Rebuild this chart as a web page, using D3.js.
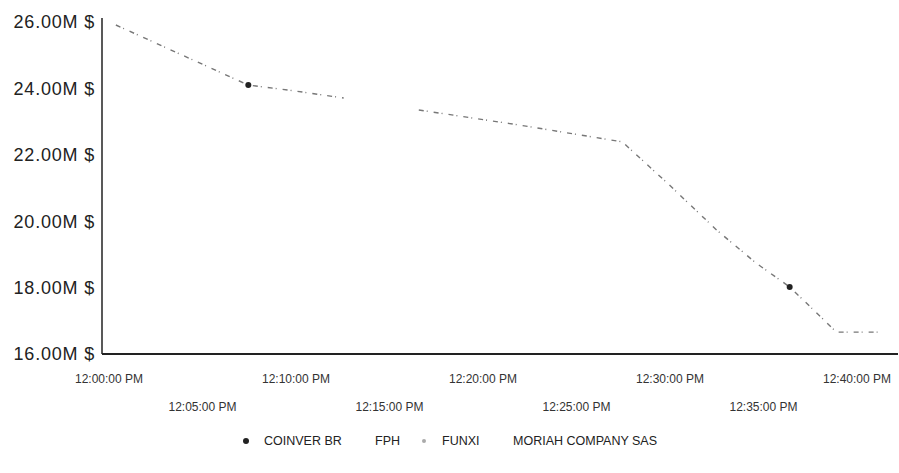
<!DOCTYPE html>
<html>
<head>
<meta charset="utf-8">
<script src="https://cdn.jsdelivr.net/npm/d3@7"></script>
<style>
  body { margin: 0; background: #fff; }
  text { font-family: "Liberation Sans", Arial, sans-serif; fill: #222; }
</style>
</head>
<body>
<svg id="chart"></svg>
<script>
// series shown in the legend
const seriesNames = ["COINVER BR", "FPH", "FUNXI", "MORIAH COMPANY SAS"];

// points of the line (time of day, value in millions $), null = break in the line
const pointTimes = ["12:00:22", "12:07:27", "12:09:36", "12:12:33", "12:14:30", "12:16:34",
                    "12:21:54", "12:27:27", "12:29:58", "12:32:30", "12:34:36", "12:36:24",
                    "12:38:54", "12:41:06"];
const pointValues = [25.91, 24.10, 23.95, 23.71, null, 23.35,
                     22.90, 22.39, 21.09, 19.73, 18.74, 18.02,
                     16.66, 16.66];
// which points carry a marker (series name) – only these are visible in the scan
const pointMarkers = [null, "COINVER BR", null, null, null, null,
                      null, null, null, null, null, "COINVER BR",
                      null, null];

const yTicks = [16, 18, 20, 22, 24, 26];
const xTickTimes = ["12:00:00", "12:05:00", "12:10:00", "12:15:00", "12:20:00",
                    "12:25:00", "12:30:00", "12:35:00", "12:40:00"];

const chartSettings = {
    width: 899,
    height: 473,
    axisLeft: 102,
    axisRight: 898,
    axisTop: 18,
    axisBottom: 354,
};

const parseTime = d3.timeParse("%H:%M:%S");
const formatTime = d3.timeFormat("%I:%M:%S %p");

const svg = d3.select("#chart")
    .attr("width", chartSettings.width)
    .attr("height", chartSettings.height);

const x = d3.scaleTime()
    .domain([parseTime("12:00:00"), parseTime("12:40:00")])
    .range([109, 857]);

const y = d3.scaleLinear()
    .domain([16, 26])
    .range([chartSettings.axisBottom, 22]);

// y labels
svg.append("g")
    .selectAll("text")
    .data(yTicks)
    .join("text")
    .attr("x", 95)
    .attr("y", d => y(d))
    .attr("dy", "0.35em")
    .attr("text-anchor", "end")
    .style("font-size", "18px")
    .style("letter-spacing", "0.8px")
    .text(d => d.toFixed(2) + "M $");

// axis lines
svg.append("line")
    .attr("x1", chartSettings.axisLeft).attr("x2", chartSettings.axisLeft)
    .attr("y1", chartSettings.axisTop).attr("y2", chartSettings.axisBottom)
    .attr("stroke", "#222").attr("stroke-width", 1.5);
svg.append("line")
    .attr("x1", chartSettings.axisLeft).attr("x2", chartSettings.axisRight)
    .attr("y1", chartSettings.axisBottom).attr("y2", chartSettings.axisBottom)
    .attr("stroke", "#222").attr("stroke-width", 2);

// x labels, staggered in two rows
svg.append("g")
    .selectAll("text")
    .data(xTickTimes.map(parseTime))
    .join("text")
    .attr("x", d => x(d))
    .attr("y", (d, i) => i % 2 === 0 ? 383 : 411)
    .attr("text-anchor", "middle")
    .style("font-size", "12px")
    .style("fill", "#333")
    .text(d => formatTime(d));

// line
const points = pointTimes.map((t, i) => ({
    time: parseTime(t),
    value: pointValues[i],
    marker: pointMarkers[i],
}));

const line = d3.line()
    .defined(d => d.value != null)
    .x(d => x(d.time))
    .y(d => y(d.value));

svg.append("path")
    .datum(points)
    .attr("fill", "none")
    .attr("stroke", "#777")
    .attr("stroke-width", 1.4)
    .attr("stroke-dasharray", "5 3 1 6")
    .attr("d", line);

svg.append("g")
    .selectAll("circle")
    .data(points.filter(d => d.marker != null && d.value != null))
    .join("circle")
    .attr("cx", d => x(d.time))
    .attr("cy", d => y(d.value))
    .attr("r", 3)
    .attr("fill", "#222");

// legend
const legendX = [246, 365, 424, 503];
const legendMarkerFill = ["#222", "none", "#aaa", "none"];
const legend = svg.append("g")
    .selectAll("g")
    .data(seriesNames)
    .join("g")
    .attr("transform", (d, i) => `translate(${legendX[i]},441)`);

legend.append("circle")
    .attr("r", (d, i) => i === 2 ? 2 : 3)
    .attr("fill", (d, i) => legendMarkerFill[i]);

legend.append("text")
    .attr("x", (d, i) => i === 0 || i === 2 ? 18 : 10)
    .attr("dy", "0.35em")
    .style("font-size", "12.5px")
    .text(d => d);
</script>
</body>
</html>
